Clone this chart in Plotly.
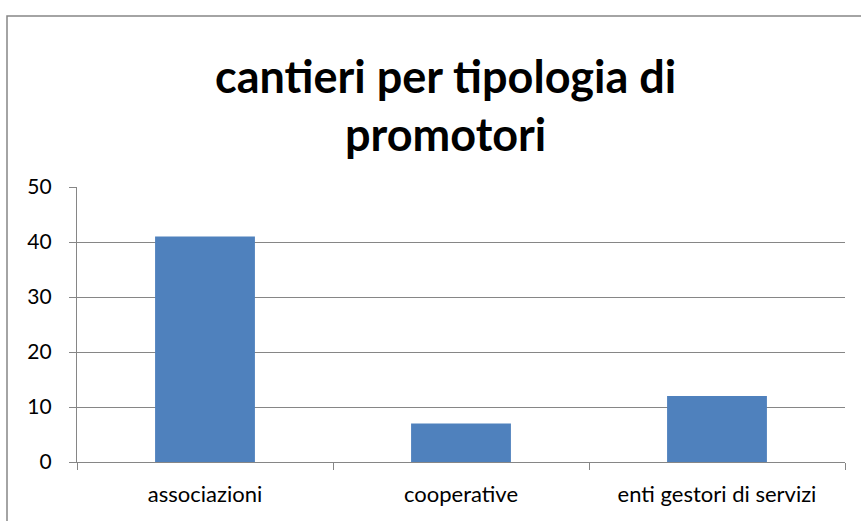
import plotly.graph_objects as go

categories = ["associazioni", "cooperative", "enti gestori di servizi"]
values = [41, 7, 12]
y_ticks = [0, 10, 20, 30, 40, 50]

W, H = 861, 521
L, R, T, B = 77, 16, 187, 59
pw = W - L - R
ph = H - T - B

fig = go.Figure(go.Bar(x=categories, y=values, marker_color="#4F81BD",
                       marker_line_width=0, width=0.39, hoverinfo="skip"))

grid = "#868686"
fig.update_layout(
    width=W, height=H,
    margin=dict(l=L, r=R, t=T, b=B),
    paper_bgcolor="white", plot_bgcolor="white",
    showlegend=False,
    font=dict(family="Lato, Open Sans, sans-serif", color="#000000"),
    xaxis=dict(showline=True, linecolor=grid, linewidth=1.3, ticks="outside",
               tickson="boundaries", ticklen=7, tickcolor=grid, tickwidth=1.3,
               tickfont=dict(size=22), ticklabelstandoff=12, showgrid=False),
    yaxis=dict(range=[0, 50], tickvals=y_ticks, showline=True, linecolor=grid,
               linewidth=1.3, ticks="outside", ticklen=7, tickcolor=grid,
               tickwidth=1.3, showgrid=True, gridcolor=grid, gridwidth=1.3,
               tickfont=dict(size=21), ticklabelstandoff=13, zeroline=False),
)

def py(y):
    return (H - B - y) / ph

def px(x):
    return (x - L) / pw

fig.add_annotation(text="<b>cantieri per tipologia di</b>", xref="paper", yref="paper",
                   x=px(445), y=py(76), xanchor="center", yanchor="middle",
                   showarrow=False, font=dict(size=45, family="Lato, sans-serif"))
fig.add_annotation(text="<b>promotori</b>", xref="paper", yref="paper",
                   x=px(445), y=py(134), xanchor="center", yanchor="middle",
                   showarrow=False, font=dict(size=45, family="Lato, sans-serif"))

fig.add_shape(type="rect", xref="paper", yref="paper",
              x0=px(7), x1=px(W + 20), y0=py(H + 20), y1=py(16),
              line=dict(color=grid, width=1.5), fillcolor="rgba(0,0,0,0)", layer="below")

fig.write_html("out.html", config={"displayModeBar": False},
               post_script="document.body.style.margin='0';document.documentElement.style.overflow='hidden';")
